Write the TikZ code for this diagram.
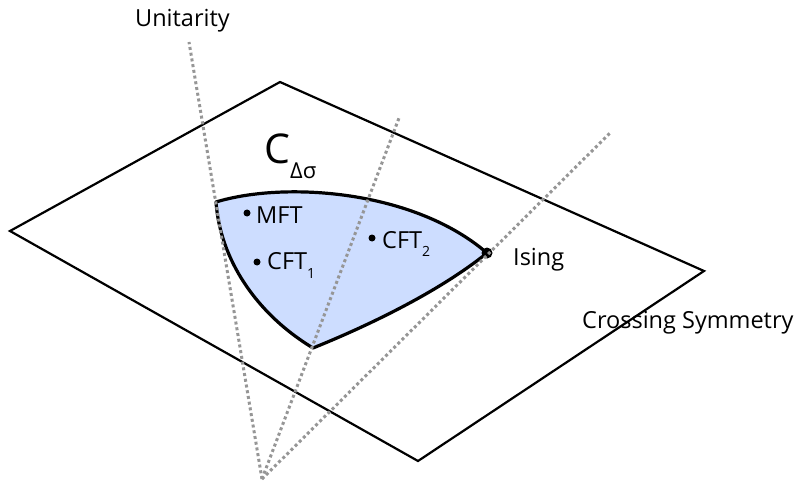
\documentclass[tikz,border=0pt]{standalone}
\usepackage{fontspec}
\setmainfont{Open Sans}
\definecolor{regionblue}{RGB}{205,221,255}
\definecolor{dotgray}{RGB}{150,150,150}
\begin{document}
\begin{tikzpicture}[x=1pt,y=1pt,
  plane/.style={line width=2.2pt, line join=miter},
  bound/.style={line width=3.2pt, line cap=round},
  dotline/.style={dotgray, line width=3pt, dash pattern=on 3pt off 2.8pt},
  lbl/.style={inner sep=0pt, anchor=base west, font=\fontsize{23.5}{23.5}\selectfont},
  pt/.style={circle, fill=black, inner sep=0pt, minimum size=7pt}]
\useasboundingbox (0,0) rectangle (804,483);
% plane
\coordinate (pl) at (10,252);
\coordinate (pt1) at (280,401);
\coordinate (pr) at (704,212);
\coordinate (pb) at (418,22);
\draw[plane] (pl) -- (pt1) -- (pr) -- (pb) -- cycle;
% region
\coordinate (A) at (216,281);
\coordinate (B) at (487,230);
\coordinate (Cc) at (313,135);
\fill[regionblue] (A) .. controls (285,302) and (414,293) .. (B)
  .. controls (440,192) and (370,158) .. (Cc)
  .. controls (255,170) and (220,225) .. (A) -- cycle;
\draw[bound] (A) .. controls (285,302) and (414,293) .. (B);
\draw[bound] (B) .. controls (440,192) and (370,158) .. (Cc);
\draw[bound] (Cc) .. controls (255,170) and (220,225) .. (A);
% points
\node[pt] (mftdot) at (247,270) {};
\node[pt] (cft1dot) at (257,221) {};
\node[pt] (cft2dot) at (372,245) {};
\node[pt, minimum size=11pt] (isingdot) at (487,230) {};
% dotted lines
\coordinate (apex) at (262,4);
\coordinate (uend) at (189,441);
\coordinate (mend) at (399,365);
\coordinate (iend) at (610,350);
\draw[dotline] (apex) -- (uend);
\draw[dotline] (apex) -- (mend);
\draw[dotline] (apex) -- (iend);
% labels
\node[lbl] (unit) at (135,456) {Unitarity};
\node[lbl] (cross) at (582,155) {Crossing Symmetry};
\node[lbl] (ising) at (513,218) {Ising};
\node[lbl] (mft) at (256,260) {MFT};
\node[lbl] (cft1) at (267,214) {CFT\raisebox{-9pt}{\fontsize{14}{14}\selectfont 1}};
\node[lbl] (cft2) at (382,235) {CFT\raisebox{-9pt}{\fontsize{14}{14}\selectfont 2}};
\node[inner sep=0pt, anchor=base west, font=\fontsize{41}{41}\selectfont] (cname) at (264,319) {C};
\node[inner sep=0pt, anchor=base west, font=\fontsize{22}{22}\selectfont] (csub) at (290,305) {Δσ};
\end{tikzpicture}
\end{document}
